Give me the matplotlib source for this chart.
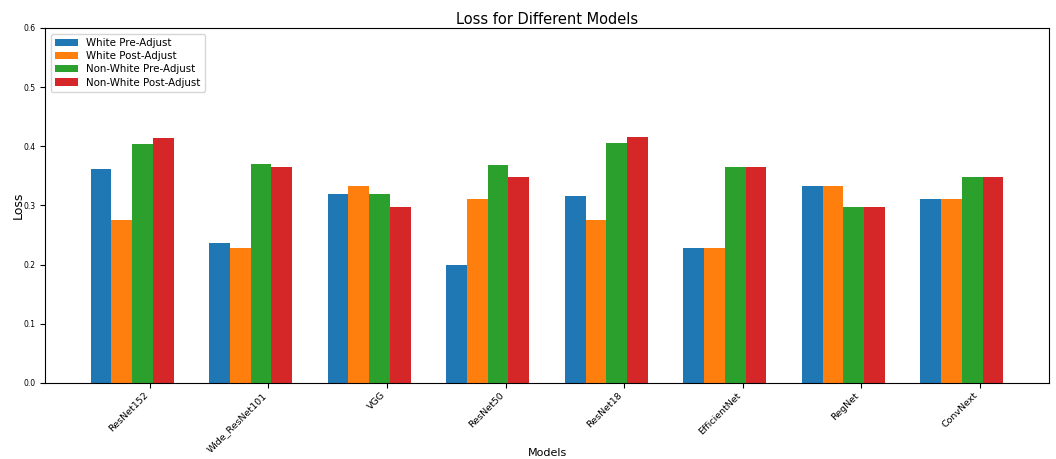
import matplotlib
matplotlib.use("Agg")
import matplotlib.pyplot as plt
import numpy as np

models = ["ResNet152", "Wide_ResNet101", "VGG", "ResNet50",
          "ResNet18", "EfficientNet", "RegNet", "ConvNext"]

white_pre = [0.362, 0.237, 0.319, 0.199, 0.316, 0.229, 0.333, 0.311]
white_post = [0.275, 0.229, 0.333, 0.311, 0.276, 0.229, 0.333, 0.311]
nonwhite_pre = [0.404, 0.370, 0.319, 0.368, 0.405, 0.365, 0.297, 0.349]
nonwhite_post = [0.414, 0.365, 0.297, 0.349, 0.415, 0.365, 0.297, 0.349]

series = [
    ("White Pre-Adjust", white_pre),
    ("White Post-Adjust", white_post),
    ("Non-White Pre-Adjust", nonwhite_pre),
    ("Non-White Post-Adjust", nonwhite_post),
]

fig, ax = plt.subplots(figsize=(10.56, 4.59), dpi=100)
fig.subplots_adjust(left=0.0426, right=0.9934, top=0.939, bottom=0.1656)

x = np.arange(len(models))
width = 0.175
for i, (label, vals) in enumerate(series):
    ax.bar(x - 0.5 + width / 2 + i * width, vals, width, label=label)

ax.set_xticks(x)
ax.set_xticklabels(models, rotation=45, ha="right", fontsize=6.8)
ax.tick_params(axis="y", labelsize=5.5)
ax.tick_params(axis="x", pad=2)
ax.set_ylim(0, 0.6)
ax.set_yticks(np.arange(0, 0.61, 0.1))
ax.set_xlabel("Models", fontsize=8)
ax.xaxis.set_label_coords(0.5, -0.182)
ax.set_ylabel("Loss", fontsize=9)
ax.yaxis.set_label_coords(-0.02, 0.5)
ax.set_title("Loss for Different Models", fontsize=10.5, pad=3)
ax.legend(loc="upper left", fontsize=7.4, labelspacing=0.3, handlelength=2.2,
          borderaxespad=0.6)

fig.savefig("out.png", dpi=100)
